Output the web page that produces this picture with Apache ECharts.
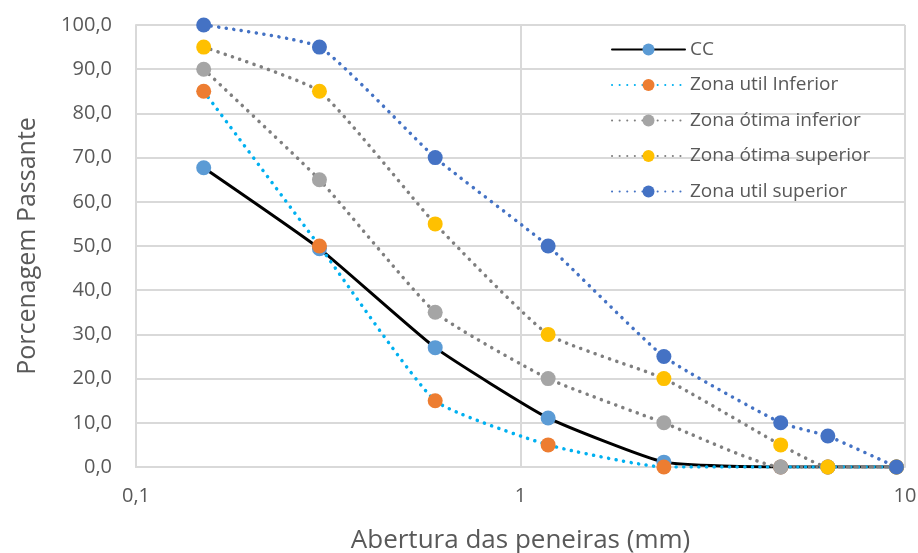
<!DOCTYPE html>
<html>
<head>
<meta charset="utf-8">
<script src="https://cdn.jsdelivr.net/npm/echarts@6/dist/echarts.min.js"></script>
<style>
html,body{margin:0;padding:0;background:#fff;}
#chart{width:918px;height:553px;}
</style>
</head>
<body>
<div id="chart"></div>
<script>
// Sieve openings (mm) and percent passing for each curve
const sieves = [0.15, 0.3, 0.6, 1.18, 2.36, 4.75, 6.3, 9.5];
const cc = [67.7, 49.4, 27.0, 11.1, 1.1, 0, 0, 0];
const utilInferior = [85, 50, 15, 5, 0, 0, 0, 0];
const otimaInferior = [90, 65, 35, 20, 10, 0, 0, 0];
const otimaSuperior = [95, 85, 55, 30, 20, 5, 0, 0];
const utilSuperior = [100, 95, 70, 50, 25, 10, 7, 0];
const xTicks = [0.1, 1, 10];
const yTicks = [0, 10, 20, 30, 40, 50, 60, 70, 80, 90, 100];

const fontFamily = '"Open Sans", "Noto Sans", sans-serif';
const textColor = '#595959';
const dot = [0.1, 7.5];

function pairs(vals) { return sieves.map((s, i) => [s, vals[i]]); }

function makeSeries(name, vals, lineColor, markerColor, dotted, width) {
  return {
    name: name,
    type: 'line',
    data: pairs(vals),
    smooth: 0.15,
    symbol: 'circle',
    symbolSize: 15,
    showAllSymbol: true,
    lineStyle: {
      color: lineColor,
      width: width,
      type: dotted ? dot : 'solid',
      cap: 'round'
    },
    itemStyle: { color: markerColor, borderWidth: 0 },
    emphasis: { disabled: true },
    animation: false
  };
}

const chart = echarts.init(document.getElementById('chart'), null, { renderer: 'canvas' });
chart.setOption({
  backgroundColor: '#ffffff',
  animation: false,
  grid: { left: 136, right: 13, top: 25, bottom: 86, containLabel: false, outerBoundsMode: 'none' },
  legend: {
    orient: 'vertical',
    left: 606,
    top: 35,
    itemWidth: 73,
    itemHeight: 15,
    itemGap: 16.5,
    textStyle: { fontFamily: fontFamily, fontSize: 19, color: textColor },
    data: ['CC', 'Zona util Inferior', 'Zona ótima inferior', 'Zona ótima superior', 'Zona util superior']
  },
  xAxis: {
    type: 'log',
    logBase: 10,
    min: xTicks[0],
    max: xTicks[xTicks.length - 1],
    name: 'Abertura das peneiras (mm)',
    nameLocation: 'middle',
    nameGap: 61,
    nameTextStyle: { fontFamily: fontFamily, fontSize: 26, color: textColor },
    axisLine: { show: true, lineStyle: { color: '#D9D9D9', width: 2 } },
    axisTick: { show: false },
    axisLabel: {
      fontFamily: fontFamily, fontSize: 20, color: textColor, margin: 19,
      formatter: v => String(v).replace('.', ',')
    },
    splitLine: { show: true, lineStyle: { color: '#D9D9D9', width: 2 } },
    minorTick: { show: false },
    minorSplitLine: { show: false }
  },
  yAxis: {
    type: 'value',
    min: yTicks[0],
    max: yTicks[yTicks.length - 1],
    interval: 10,
    name: 'Porcenagem Passante',
    nameLocation: 'middle',
    nameGap: 96,
    nameTextStyle: { fontFamily: fontFamily, fontSize: 25, color: textColor },
    axisLine: { show: true, lineStyle: { color: '#D9D9D9', width: 2 } },
    axisTick: { show: false },
    axisLabel: {
      fontFamily: fontFamily, fontSize: 20, color: textColor, margin: 24,
      formatter: v => v.toFixed(1).replace('.', ',')
    },
    splitLine: { show: true, lineStyle: { color: '#D9D9D9', width: 2 } }
  },
  series: [
    makeSeries('CC', cc, '#000000', '#5B9BD5', false, 3),
    makeSeries('Zona util Inferior', utilInferior, '#00B0F0', '#ED7D31', true, 3.5),
    makeSeries('Zona ótima inferior', otimaInferior, '#7F7F7F', '#A5A5A5', true, 3.5),
    makeSeries('Zona ótima superior', otimaSuperior, '#7F7F7F', '#FFC000', true, 3.5),
    makeSeries('Zona util superior', utilSuperior, '#4472C4', '#4472C4', true, 3.5)
  ]
});
</script>
</body>
</html>
